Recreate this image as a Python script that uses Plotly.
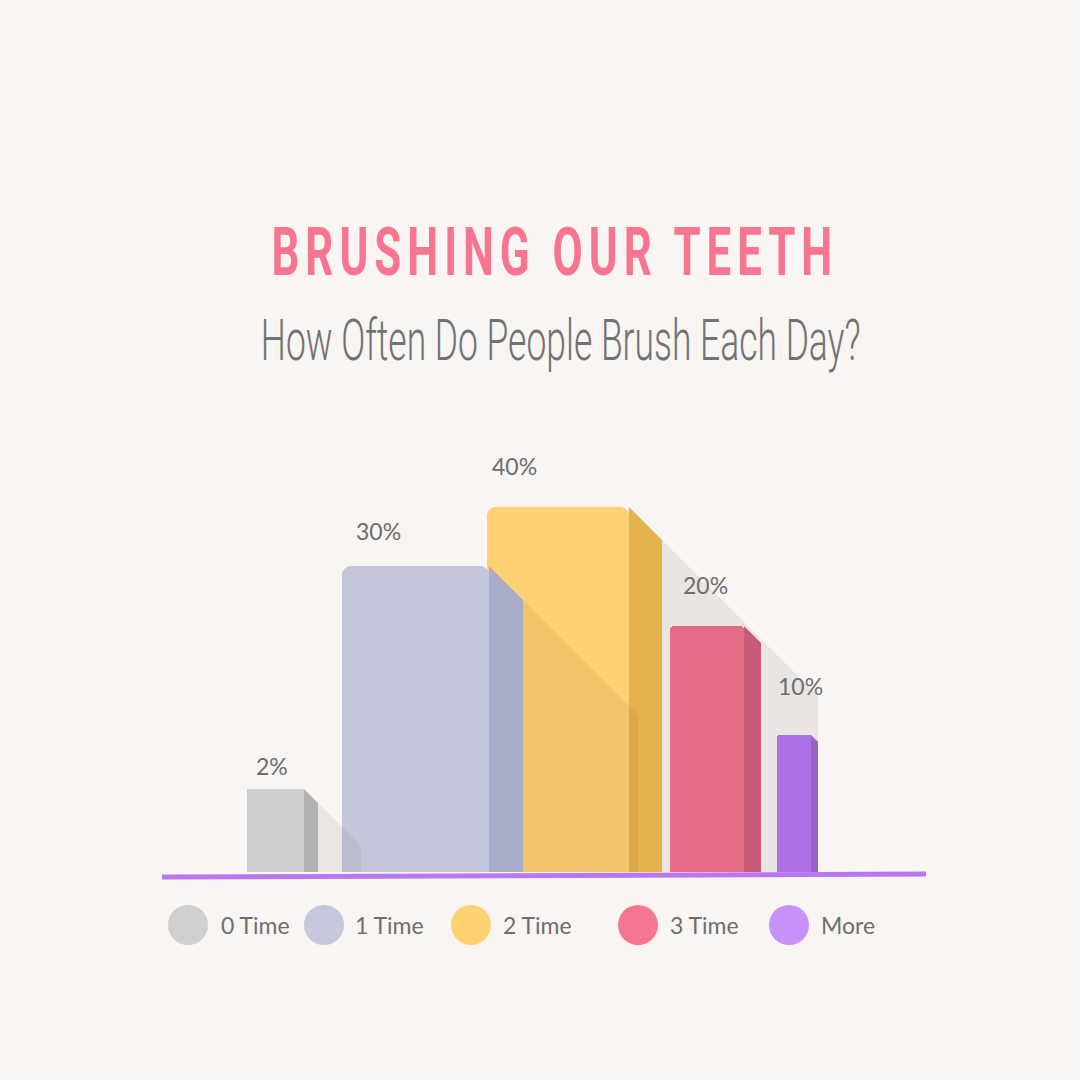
import plotly.graph_objects as go

# data
categories = ["0 Time", "1 Time", "2 Time", "3 Time", "More"]
share_labels = ["2%", "30%", "40%", "20%", "10%"]
bar_height = [83, 306, 365, 246, 137]   # drawn heights, in chart units

title = "BRUSHING OUR TEETH"
subtitle = "How Often Do People Brush Each Day?"

# colours
front_col = ["#cecece", "#c4c6da", "#fed172", "#e66b86", "#ac70e3"]
side_col = ["#b2b2b2", "#aaadc9", "#e4b24d", "#c85b78", "#9862c9"]
legend_col = ["#d0d0d0", "#c5c7db", "#fed273", "#f7768f", "#c891f8"]
bg = "#f8f5f2"
txt = "#6e6e6e"

# layout (pixel-like units, baseline at y=0)
bar_left = [247, 342, 487, 670, 777]
bar_w = [57, 147, 142, 74, 34]
side_w = [14, 34, 33, 17, 7]
shadow_right = [361, 638, 818, 768, 818]
shadow_layer = ["above", "above", "below", "below", "below"]
radius = [0, 9, 9, 4, 2]
label_dx = [7, 12, 3, 11, -1]
label_gap = [23, 35, 41, 41, 49]
legend_dot_x = [188, 324, 471, 638, 789]
legend_txt_x = [219, 353, 501, 668, 819]
legend_y = -53
draw_order = [0, 2, 1, 3, 4]

fig = go.Figure()

for i in draw_order:
    fig.add_trace(go.Bar(
        x=[bar_left[i] + bar_w[i] / 2], y=[bar_height[i]], width=[bar_w[i]],
        marker=dict(color=front_col[i], line=dict(width=0), cornerradius=radius[i]),
        name=categories[i], showlegend=False, hoverinfo="skip",
    ))

shapes = []
# side faces with the chamfered top
for i in range(len(categories)):
    r = bar_left[i] + bar_w[i]
    h = bar_height[i]
    s = side_w[i]
    shapes.append(dict(
        type="path", layer="above", line=dict(width=0), fillcolor=side_col[i],
        path=f"M {r},{h} L {r + s},{h - s} L {r + s},0 L {r},0 Z",
    ))
# long 45 degree shadows
for i in range(len(categories)):
    x0 = bar_left[i] + bar_w[i] + side_w[i]
    y0 = bar_height[i] - side_w[i]
    x1 = shadow_right[i]
    if x1 <= x0:
        continue
    y1 = y0 - (x1 - x0)
    shapes.append(dict(
        type="path", layer=shadow_layer[i], line=dict(width=0),
        fillcolor="rgba(70,50,30,0.075)" if shadow_layer[i] == "above" else "#e8e5e2",
        path=f"M {x0},{y0} L {x1},{y1} L {x1},0 L {x0},0 Z",
    ))
# baseline
shapes.append(dict(type="line", layer="above", x0=162, x1=926, y0=-5, y1=-2,
                   line=dict(color="#b877f0", width=5)))

annotations = []
for i in range(len(categories)):
    annotations.append(dict(
        x=bar_left[i] + label_dx[i], y=bar_height[i] + label_gap[i],
        text=share_labels[i], showarrow=False, xanchor="left", yanchor="middle",
        font=dict(family="Lato, sans-serif", size=23, color=txt),
    ))
    annotations.append(dict(
        x=legend_txt_x[i], y=legend_y, text=categories[i], showarrow=False,
        xanchor="left", yanchor="middle",
        font=dict(family="Lato, sans-serif", size=23, color=txt),
    ))

annotations.append(dict(
    x=555, y=620, text=title, showarrow=False,
    xanchor="center", yanchor="middle",
    font=dict(family="Roboto, sans-serif", size=66, color="#f7758f", weight="bold"),
))
annotations.append(dict(
    x=560, y=532, text=subtitle, showarrow=False,
    xanchor="center", yanchor="middle",
    font=dict(family="Roboto, sans-serif", size=58, color="#727272", weight=300),
))

fig.add_trace(go.Scatter(
    x=legend_dot_x, y=[legend_y] * len(categories), mode="markers",
    marker=dict(size=40, color=legend_col, line=dict(width=0)),
    showlegend=False, hoverinfo="skip",
))

fig.update_layout(
    width=1080, height=1080, autosize=False,
    margin=dict(l=0, r=0, t=0, b=0),
    paper_bgcolor=bg, plot_bgcolor=bg,
    barmode="overlay", bargap=0,
    xaxis=dict(range=[0, 1080], visible=False, fixedrange=True),
    yaxis=dict(range=[-208, 872], visible=False, fixedrange=True),
    shapes=shapes, annotations=annotations,
)

# squeeze the headings to the narrow, tracked look of the original
post = """
document.body.style.margin = '0';
var gd = document.getElementById('{plot_id}');
function fit(s, w, ls) {
  gd.querySelectorAll('text.annotation-text').forEach(function (t) {
    if (t.textContent === s) {
      t.style.letterSpacing = ls + 'px';
      var b = t.getBBox();
      t.style.transformBox = 'fill-box';
      t.style.transformOrigin = 'center';
      t.style.transform = 'scaleX(' + (w / b.width) + ')';
    }
  });
}
fit('BRUSHING OUR TEETH', 567, 9);
fit('How Often Do People Brush Each Day?', 600, 0);
"""

fig.write_html("out.html", post_script=post, config={"displayModeBar": False})
